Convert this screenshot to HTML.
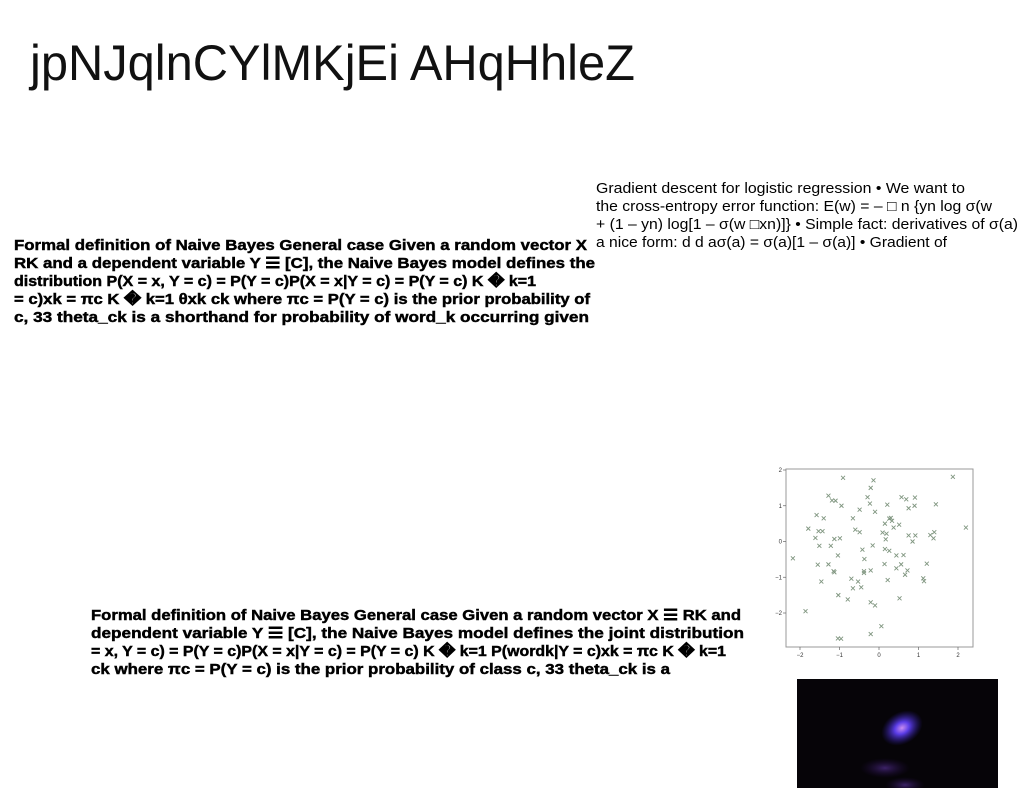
<!DOCTYPE html>
<html><head><meta charset="utf-8"><style>
html,body{margin:0;padding:0;background:#fff;width:1024px;height:788px;overflow:hidden}
svg{display:block}
.b{font-family:"Liberation Sans",sans-serif;font-weight:bold;font-size:15px;fill:#000;stroke:#000;stroke-width:0.45}
.n{font-family:"Liberation Sans",sans-serif;font-size:15px;fill:#000}
</style></head><body>
<svg id="root" width="1024" height="788" viewBox="0 0 1024 788">
<text x="30" y="80" font-family="Liberation Sans, sans-serif" font-size="50" fill="#111" textLength="605" lengthAdjust="spacingAndGlyphs">jpNJqlnCYlMKjEi AHqHhleZ</text>

<g class="n">
<text x="596" y="193" textLength="369" lengthAdjust="spacingAndGlyphs">Gradient descent for logistic regression • We want to</text>
<text x="596" y="211" textLength="396" lengthAdjust="spacingAndGlyphs">the cross-entropy error function: E(w) = – □ n {yn log σ(w</text>
<text x="596" y="229" textLength="422" lengthAdjust="spacingAndGlyphs">+ (1 – yn) log[1 – σ(w □xn)]} • Simple fact: derivatives of σ(a)</text>
<text x="596" y="247" textLength="351" lengthAdjust="spacingAndGlyphs">a nice form: d d aσ(a) = σ(a)[1 – σ(a)] • Gradient of</text>
</g>

<g class="b">
<text x="14" y="250" textLength="573" lengthAdjust="spacingAndGlyphs">Formal definition of Naive Bayes General case Given a random vector X</text>
<text x="14" y="268" textLength="581" lengthAdjust="spacingAndGlyphs">RK and a dependent variable Y ☰ [C], the Naive Bayes model defines the</text>
<text x="14" y="286" textLength="522" lengthAdjust="spacingAndGlyphs">distribution P(X = x, Y = c) = P(Y = c)P(X = x|Y = c) = P(Y = c) K � k=1</text>
<text x="14" y="304" textLength="576" lengthAdjust="spacingAndGlyphs">= c)xk = πc K � k=1 θxk ck where πc = P(Y = c) is the prior probability of</text>
<text x="14" y="322" textLength="575" lengthAdjust="spacingAndGlyphs">c, 33 theta_ck is a shorthand for probability of word_k occurring given</text>
</g>

<g class="b">
<text x="91" y="620" textLength="650" lengthAdjust="spacingAndGlyphs">Formal definition of Naive Bayes General case Given a random vector X ☰ RK and</text>
<text x="91" y="638" textLength="653" lengthAdjust="spacingAndGlyphs">dependent variable Y ☰ [C], the Naive Bayes model defines the joint distribution</text>
<text x="91" y="656" textLength="635" lengthAdjust="spacingAndGlyphs">= x, Y = c) = P(Y = c)P(X = x|Y = c) = P(Y = c) K � k=1 P(wordk|Y = c)xk = πc K � k=1</text>
<text x="91" y="674" textLength="579" lengthAdjust="spacingAndGlyphs">ck where πc = P(Y = c) is the prior probability of class c, 33 theta_ck is a</text>
</g>

<g id="scatter"></g>

<defs>
<radialGradient id="neb1" cx="0.5" cy="0.5" r="0.5">
<stop offset="0" stop-color="#c88cf0"/><stop offset="0.35" stop-color="#5a3ce6"/><stop offset="1" stop-color="#2a1a90" stop-opacity="0"/>
</radialGradient>
<radialGradient id="neb2" cx="0.5" cy="0.5" r="0.5">
<stop offset="0" stop-color="#4a2a80" stop-opacity="0.8"/><stop offset="1" stop-color="#200a40" stop-opacity="0"/>
</radialGradient>
</defs>
<g>
<rect x="797" y="679" width="201" height="109" fill="#060408"/>
<ellipse cx="902" cy="728" rx="22" ry="16" fill="url(#neb1)" transform="rotate(-30 902 728)"/>
<ellipse cx="885" cy="768" rx="25" ry="10" fill="url(#neb2)"/>
<ellipse cx="905" cy="785" rx="20" ry="8" fill="url(#neb2)"/>
</g>
</svg>
<script>
const xVals=[1.87,2.2,-0.91,-0.14,-0.21,-1.28,-1.19,-1.10,-0.95,-0.29,-0.23,-0.49,-0.10,0.21,0.57,0.69,0.91,0.75,0.9,1.44,-1.58,-1.40,-1.79,-1.53,-1.43,-1.61,-1.51,-1.13,-0.99,-1.22,-0.66,-0.6,-0.49,-0.16,-0.42,-0.37,-0.38,-0.38,-0.21,0.15,0.26,0.3,0.33,0.37,0.51,0.09,0.19,0.17,0.15,0.26,0.44,0.62,0.75,0.85,0.92,1.3,1.4,1.38,1.21,0.14,0.56,0.44,0.72,0.66,1.12,1.14,0.22,0.52,-1.04,-1.55,-1.28,-1.15,-1.13,-1.46,-0.7,-0.66,-0.53,-0.45,-1.03,-0.79,-0.21,-0.1,-2.18,-1.86,0.06,-0.21,-1.04,-0.96];
const yVals=[1.81,0.39,1.78,1.71,1.5,1.28,1.15,1.14,1.0,1.24,1.06,0.89,0.83,1.03,1.24,1.18,1.23,0.93,1.0,1.04,0.74,0.65,0.36,0.29,0.29,0.1,-0.12,0.07,0.09,-0.12,0.65,0.33,0.26,-0.11,-0.23,-0.49,-0.83,-0.88,-0.81,0.5,0.64,0.66,0.58,0.39,0.47,0.25,0.22,0.06,-0.21,-0.26,-0.39,-0.38,0.17,0.0,0.17,0.18,0.26,0.09,-0.62,-0.63,-0.64,-0.75,-0.81,-0.93,-1.03,-1.11,-1.08,-1.59,-0.39,-0.65,-0.64,-0.83,-0.86,-1.12,-1.04,-1.31,-1.12,-1.28,-1.5,-1.62,-1.7,-1.79,-0.47,-1.95,-2.37,-2.59,-2.71,-2.72];
const xTicks=[-2,-1,0,1,2];
const yTicks=[2,1,0,-1,-2];
const NS='http://www.w3.org/2000/svg';
const g=document.getElementById('scatter');
const L=786,R=973,T=469,B=647;
const sx=v=>800+(v+2)*39.5;
const sy=v=>541.5-v*35.75;
function mk(t,a){const e=document.createElementNS(NS,t);for(const k in a)e.setAttribute(k,a[k]);g.appendChild(e);return e;}
const fr=mk('rect',{x:L,y:T,width:R-L,height:B-T,fill:'#fff',stroke:'#999','stroke-width':1});


xTicks.forEach(v=>{
  const x=sx(v);
  const tk=mk('line',{x1:x,y1:B,x2:x,y2:B+3,stroke:'#666','stroke-width':0.7});
  
  
  const t=mk('text',{x:x,y:B+10,'font-size':6,'text-anchor':'middle','font-family':'Liberation Sans, sans-serif',fill:'#333'});
  t.textContent=(v<0?'−':'')+Math.abs(v);
  
  
});
yTicks.forEach(v=>{
  const y=sy(v);
  const tk=mk('line',{x1:L-3,y1:y,x2:L,y2:y,stroke:'#666','stroke-width':0.7});
  
  
  const t=mk('text',{x:L-4,y:y+2,'font-size':6,'text-anchor':'end','font-family':'Liberation Sans, sans-serif',fill:'#333'});
  t.textContent=(v<0?'−':'')+Math.abs(v);
  
  
});
xVals.forEach((xv,i)=>{
  const x=sx(xv),y=sy(yVals[i]),d=2;
  const p=mk('path',{d:`M${x-d},${y-d}L${x+d},${y+d}M${x-d},${y+d}L${x+d},${y-d}`,stroke:'#7f957f','stroke-width':0.9,fill:'none'});
  
  
});
</script>
</body></html>
